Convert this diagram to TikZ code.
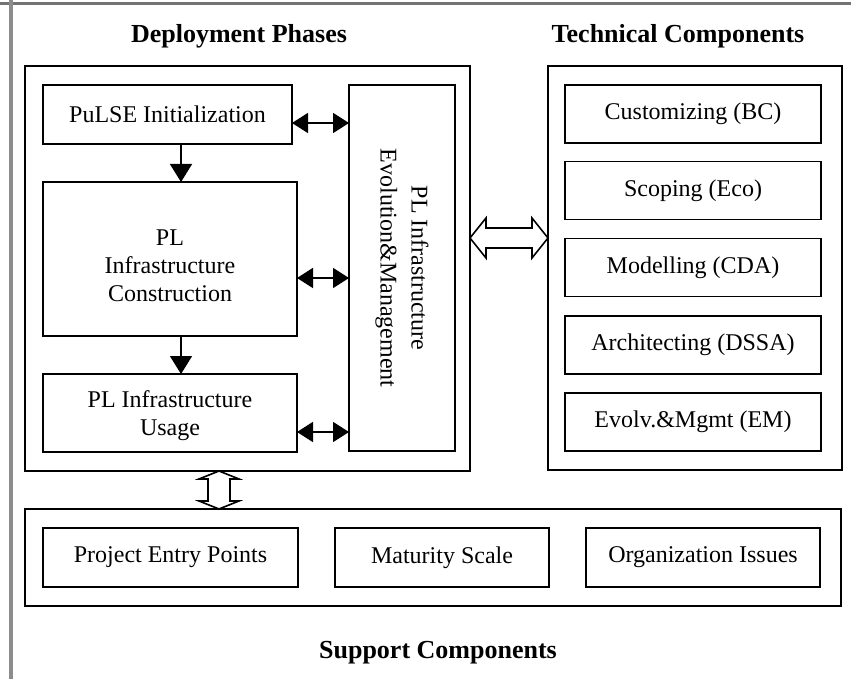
\documentclass[tikz,border=0pt]{standalone}
\usepackage{fontspec}
\setmainfont{Liberation Serif}
\usetikzlibrary{arrows.meta,calc}

\begin{document}
\begin{tikzpicture}[x=1pt,y=-1pt,
  frame/.style={draw=black,line width=1.8pt,rectangle,inner sep=0pt,outer sep=0pt},
  boxtext/.style={font=\fontsize{24}{28}\selectfont,align=center},
  box/.style={frame,boxtext},
  title/.style={font=\bfseries\fontsize{26}{30}\selectfont,anchor=base},
  link/.style={line width=1.6pt,{Triangle[length=16pt,width=20pt]}-{Triangle[length=16pt,width=20pt]},draw=black,fill=black!80},
  flow/.style={line width=1.6pt,-{Triangle[length=18pt,width=22pt]},draw=black,fill=black!80},
  hollow/.style={draw=black,line width=1.6pt,fill=white,line join=miter},
  scanedge/.style={draw=black!55,line width=3pt}
]
\useasboundingbox (0,0) rectangle (851,679);

% scanner edges
\draw[scanedge] (0,4) -- (851,4);
\draw[scanedge,line width=4pt,draw=black!45] (11,0) -- (11,679);

% titles
\node[title] (tdep)  at (239,43)  {Deployment Phases};
\node[title] (ttech) at (678,43)  {Technical Components};
\node[title] (tsup)  at (438,658) {Support Components};

% deployment phases
\node[frame,minimum width=445,minimum height=405] (dep) at (247.5,268.5) {};
\node[box,minimum width=249,minimum height=59]  (init)  at (167.5,114.5) {PuLSE Initialization};
\node[frame,minimum width=254,minimum height=154,
      label={[boxtext,yshift=-7pt]center:PL\\Infrastructure\\Construction}] (cons) at (170,259) {};
\node[frame,minimum width=254,minimum height=78,
      label={[boxtext,yshift=-3pt]center:PL Infrastructure\\Usage}] (usage) at (170,413) {};
\node[frame,minimum width=106,minimum height=366] (evol) at (402,268) {};
\node[font=\fontsize{24}{31}\selectfont,align=center,rotate=-90] (evoltxt) at (evol.center)
  {PL Infrastructure\\Evolution\&Management};

% technical components
\node[frame,minimum width=294,minimum height=404] (tech) at (695,268) {};
\node[box,minimum width=256,minimum height=58] (bc)   at (693,114)   {Customizing (BC)};
\node[box,minimum width=256,minimum height=58] (eco)  at (693,190.5) {Scoping (Eco)};
\node[box,minimum width=256,minimum height=58] (cda)  at (693,267.5) {Modelling (CDA)};
\node[box,minimum width=256,minimum height=58] (dssa) at (693,345)   {Architecting (DSSA)};
\node[box,minimum width=256,minimum height=58] (em)   at (693,422)   {Evolv.\&Mgmt (EM)};

% support components
\node[frame,minimum width=816,minimum height=97] (sup) at (433,557.5) {};
\node[box,minimum width=255,minimum height=59] (pep) at (170.5,557.5) {Project Entry Points};
\node[box,minimum width=214,minimum height=59] (mat) at (442,557.5)   {Maturity Scale};
\node[box,minimum width=234,minimum height=59] (org) at (703,557.5)   {Organization Issues};

% flow between phases
\coordinate (ax) at (181,0);
\draw[flow] (init.south -| ax) -- (cons.north -| ax);
\draw[flow] (cons.south -| ax) -- (usage.north -| ax);

% links to evolution & management
\coordinate (y1) at (0,123);
\coordinate (y2) at (0,278);
\coordinate (y3) at (0,432);
\draw[link] (init.east |- y1)  -- (evol.west |- y1);
\draw[link] (cons.east |- y2)  -- (evol.west |- y2);
\draw[link] (usage.east |- y3) -- (evol.west |- y3);

% hollow double arrow: phases <-> technical components
\coordinate (yh) at (0,238);
\draw[hollow] (dep.east |- yh) -- ++(16,-20) -- ++(0,10)
  -- ($(tech.west |- yh)+(-16,-10)$) -- ++(0,-10) -- (tech.west |- yh)
  -- ++(-16,20) -- ++(0,-10) -- ($(dep.east |- yh)+(16,10)$) -- ++(0,10) -- cycle;

% hollow double arrow: phases <-> support components
\coordinate (xv) at (219,0);
\draw[hollow] (dep.south -| xv) -- ++(20,8) -- ++(-9,0)
  -- ($(sup.north -| xv)+(11,-8)$) -- ++(9,0) -- (sup.north -| xv)
  -- ++(-20,-8) -- ++(9,0) -- ($(dep.south -| xv)+(-11,8)$) -- ++(-9,0) -- cycle;
\end{tikzpicture}
\end{document}
